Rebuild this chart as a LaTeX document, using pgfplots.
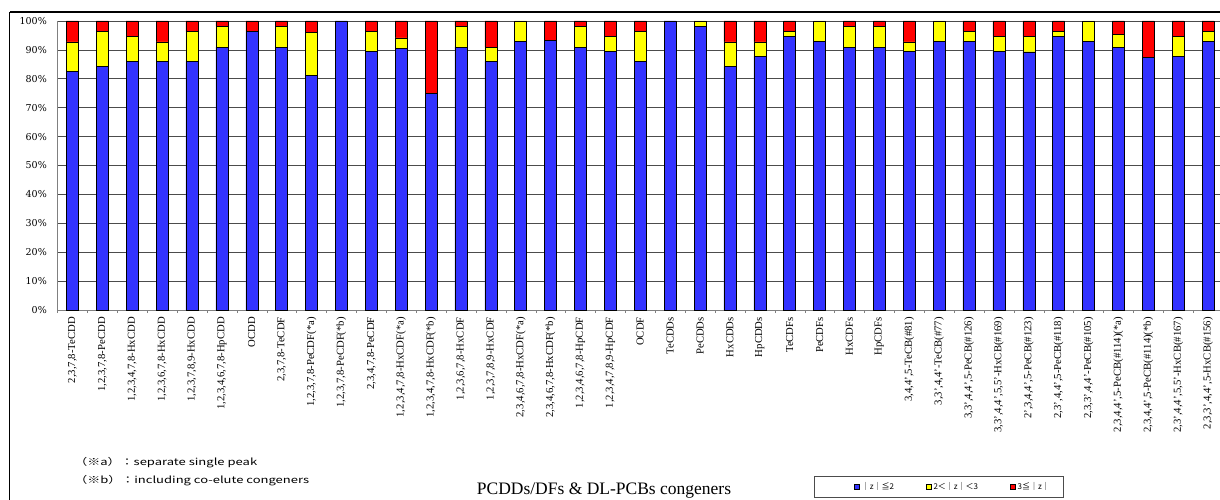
\documentclass[border=0pt]{standalone}
\usepackage{pgfplots}
\pgfplotsset{compat=1.18}
\usepackage{pgfplotstable}
\usepackage{fontspec}
\setmainfont{Liberation Serif}
\newfontfamily\dvs{DejaVu Serif}
\newfontfamily\jp{Noto Sans CJK JP}
\definecolor{zb}{HTML}{3333FF}
\definecolor{zy}{HTML}{FFFF00}
\definecolor{zr}{HTML}{FF0000}
\pgfplotstableread{
x b y r
0 82.5 10.3 7.2
1 84.2 12.1 3.7
2 86.0 8.6 5.4
3 86.0 6.8 7.2
4 86.0 10.3 3.7
5 91.0 7.2 1.8
6 96.4 0 3.6
7 91.0 7.2 1.8
8 81.2 14.9 3.9
9 100 0 0
10 89.5 6.8 3.7
11 90.5 3.7 5.8
12 75.0 0 25.0
13 91.0 7.2 1.8
14 86.0 5.0 9.0
15 93.0 7.0 0
16 93.3 0 6.7
17 91.0 7.2 1.8
18 89.5 5.2 5.3
19 86.0 10.3 3.7
20 100 0 0
21 98.2 1.8 0
22 84.2 8.6 7.2
23 87.8 5.0 7.2
24 94.7 1.6 3.7
25 93.0 7.0 0
26 91.0 7.2 1.8
27 91.0 7.2 1.8
28 89.5 3.3 7.2
29 93.0 7.0 0
30 93.0 3.3 3.7
31 89.5 5.2 5.3
32 89.3 5.4 5.3
33 94.7 1.6 3.7
34 93.0 7.0 0
35 91.0 4.4 4.6
36 87.4 0 12.6
37 87.8 6.9 5.3
38 93.0 3.3 3.7
}\data
\begin{document}
\begin{tikzpicture}
\begin{axis}[name=ax, scale only axis,
  width=1165.5pt, height=289pt,
  ybar stacked, bar width=12pt,
  xmin=-0.5, xmax=38.5, ymin=0, ymax=100, enlargelimits=false,
  axis x line*=bottom, axis y line*=left,
  axis line style={gray, line width=0.8pt},
  ymajorgrids, grid style={black!70, line width=0.6pt},
  ytick={0,10,...,100},
  /pgf/number format/assume math mode=true,
  yticklabel={\pgfmathprintnumber{\tick}\%},
  yticklabel style={font=\dvs\fontsize{9.5}{11}\selectfont, inner xsep=10.5pt},
  xtick={0,...,38},
  minor xtick={-0.5,0.5,...,38.5},
  major tick length=0pt, minor tick length=3pt, tick align=outside,
  minor tick style={gray},
  xticklabel style={rotate=90, anchor=east, font=\fontsize{10.7}{12}\selectfont, inner xsep=7pt},
  xticklabels={{2,3,7,8-TeCDD},{1,2,3,7,8-PeCDD},{1,2,3,4,7,8-HxCDD},{1,2,3,6,7,8-HxCDD},{1,2,3,7,8,9-HxCDD},{1,2,3,4,6,7,8-HpCDD},{OCDD},{2,3,7,8-TeCDF},{1,2,3,7,8-PeCDF(*a)},{1,2,3,7,8-PeCDF(*b)},{2,3,4,7,8-PeCDF},{1,2,3,4,7,8-HxCDF(*a)},{1,2,3,4,7,8-HxCDF(*b)},{1,2,3,6,7,8-HxCDF},{1,2,3,7,8,9-HxCDF},{2,3,4,6,7,8-HxCDF(*a)},{2,3,4,6,7,8-HxCDF(*b)},{1,2,3,4,6,7,8-HpCDF},{1,2,3,4,7,8,9-HpCDF},{OCDF},{TeCDDs},{PeCDDs},{HxCDDs},{HpCDDs},{TeCDFs},{PeCDFs},{HxCDFs},{HpCDFs},{3,4,4',5-TeCB(\#81)},{3,3',4,4'-TeCB(\#77)},{3,3',4,4',5-PeCB(\#126)},{3,3',4,4',5,5'-HxCB(\#169)},{2',3,4,4',5-PeCB(\#123)},{2,3',4,4',5-PeCB(\#118)},{2,3,3',4,4'-PeCB(\#105)},{2,3,4,4',5-PeCB(\#114)(*a)},{2,3,4,4',5-PeCB(\#114)(*b)},{2,3',4,4',5,5'-HxCB(\#167)},{2,3,3',4,4',5-HxCB(\#156)}},
  legend columns=3,
  legend style={at={(0.756,-0.6125)}, anchor=center, draw=black!70, line width=0.6pt,
    font=\jp\fontsize{8}{10}\selectfont, inner xsep=11pt, inner ysep=4pt,
    /tikz/every even column/.append style={column sep=30pt}},
  legend image code/.code={\draw[#1, draw=black, line width=0.4pt] (0pt,-2.5pt) rectangle (5pt,2.5pt);},
]
\addplot[fill=zb, draw=black, line width=0.5pt,
  legend image code/.code={\path (-29pt,0pt); \draw[##1, draw=black, line width=0.4pt] (0pt,-2.5pt) rectangle (5pt,2.5pt);}] table[x=x,y=b]{\data};
\addlegendentry{｜z｜≦2}
\addplot[fill=zy, draw=black, line width=0.5pt] table[x=x,y=y]{\data};
\addlegendentry{2＜｜z｜＜3}
\addplot[fill=zr, draw=black, line width=0.5pt] table[x=x,y=r]{\data};
\addlegendentry{3≦｜z｜}
\end{axis}
\pgfresetboundingbox
\begin{scope}[shift={(ax.south west)}, x=1pt, y=1pt, shift={(-57.5,-190)}]
\useasboundingbox (0,0) rectangle (1220,500);
\draw[line width=2pt] (10,487.5) -- (1230,487.5);
\draw[line width=1pt] (10,487.5) -- (10,-5);
\node[anchor=west, font=\jp\fontsize{9.5}{12}\selectfont, xscale=1.37, inner sep=0pt] at (74,37) {（※a）：separate single peak};
\node[anchor=west, font=\jp\fontsize{9.5}{12}\selectfont, xscale=1.37, inner sep=0pt] at (74,19) {（※b）：including co-elute congeners};
\node[font=\fontsize{17.5}{19}\selectfont] at (604,9) {PCDDs/DFs \& DL-PCBs congeners};
\end{scope}
\end{tikzpicture}
\end{document}
